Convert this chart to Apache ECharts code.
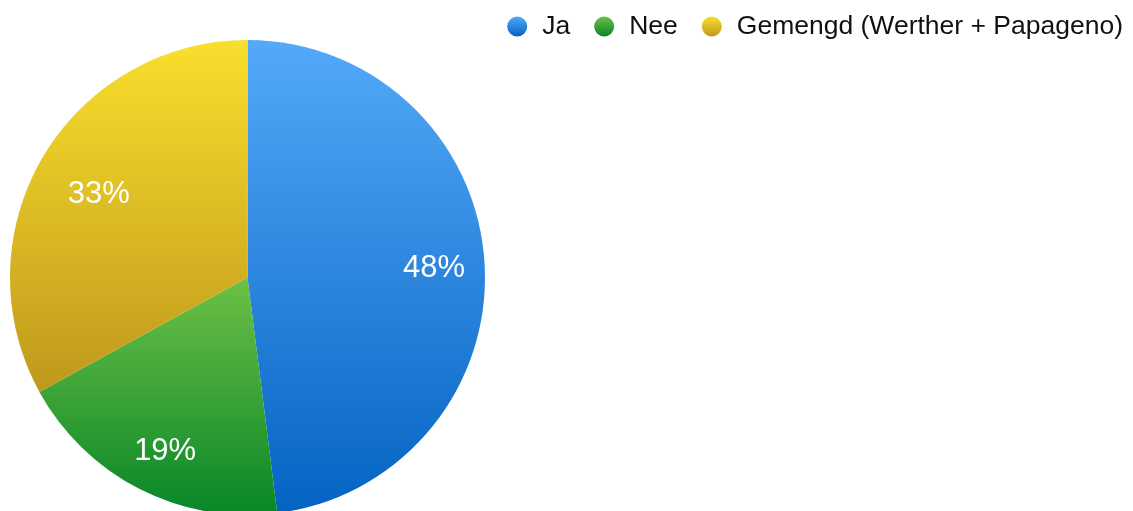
<!DOCTYPE html>
<html>
<head>
<meta charset="utf-8">
<script src="https://cdn.jsdelivr.net/npm/echarts@6/dist/echarts.min.js"></script>
<style>
  html, body { margin: 0; padding: 0; background: #fff; }
  #myChart { width: 1133px; height: 511px; }
</style>
</head>
<body>
<div id="myChart"></div>
<script>
  // antwoorden en aandelen (procent)
  var categories = ['Ja', 'Nee', 'Gemengd (Werther + Papageno)'];
  var values = [48, 19, 33];
  var topColors = ['#54a9f9', '#6dc046', '#f9df2d'];
  var bottomColors = ['#0463c2', '#088628', '#bf981c'];
  // kleine verschuiving van de labels [dx, dy]
  var labelShift = [[-1, 3], [3, 6], [13, 13]];

  function grad(i) {
    return new echarts.graphic.LinearGradient(0, 0, 0, 1, [
      { offset: 0, color: topColors[i] },
      { offset: 1, color: bottomColors[i] }
    ]);
  }

  var pieData = categories.map(function (name, i) {
    return { name: name, value: values[i], itemStyle: { color: grad(i) } };
  });
  // onzichtbare grotere cirkel, alleen om de labels verder naar buiten te zetten
  var labelData = categories.map(function (name, i) {
    return { name: name, value: values[i], itemStyle: { color: 'rgba(0,0,0,0)' } };
  });

  var myChart = echarts.init(document.getElementById('myChart'));
  myChart.setOption({
    animation: false,
    legend: {
      data: categories,
      right: 5,
      top: 8,
      icon: 'circle',
      itemWidth: 20,
      itemHeight: 20,
      itemGap: 24,
      textStyle: {
        fontFamily: 'Liberation Sans, Arial, sans-serif',
        fontSize: 26.5,
        color: '#111',
        padding: [0, 0, 0, 10]
      }
    },
    series: [
      {
        type: 'pie',
        center: [247.5, 277.5],
        radius: 237.5,
        startAngle: 90,
        clockwise: true,
        silent: true,
        label: { show: false },
        labelLine: { show: false },
        data: pieData
      },
      {
        type: 'pie',
        center: [247.5, 277.5],
        radius: 370,
        startAngle: 90,
        clockwise: true,
        silent: true,
        label: {
          show: true,
          position: 'inside',
          formatter: '{d}%',
          color: '#fff',
          fontFamily: 'Liberation Sans, Arial, sans-serif',
          fontSize: 31
        },
        labelLayout: function (params) {
          var s = labelShift[params.dataIndex];
          return { dx: s[0], dy: s[1] };
        },
        labelLine: { show: false },
        data: labelData
      }
    ]
  });
</script>
</body>
</html>
